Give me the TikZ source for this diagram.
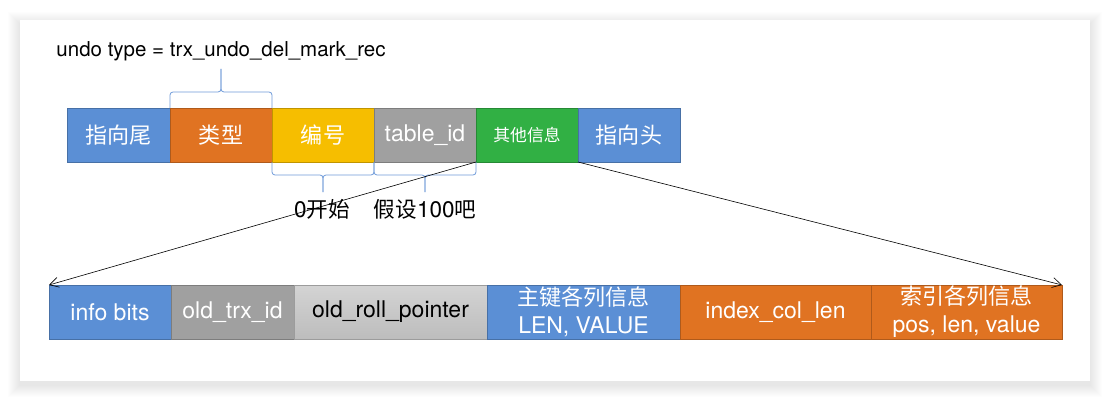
\documentclass[tikz,border=0pt]{standalone}
\usepackage{fontspec}
\setmainfont{TeX Gyre Heros}
\newfontfamily\cjk{Noto Sans CJK SC}[Scale=0.96]
\usetikzlibrary{positioning,arrows.meta}

\definecolor{cblue}{HTML}{5B8FD5}
\definecolor{corange}{HTML}{E07322}
\definecolor{cyellow}{HTML}{F6BE00}
\definecolor{cgray}{HTML}{A0A0A0}
\definecolor{cgreen}{HTML}{31B044}
\definecolor{clight}{HTML}{C8C8C8}
\definecolor{cbrace}{HTML}{6F9BDA}

\tikzset{
  cell/.style={draw=#1!78!black, fill=#1, line width=0.7pt, minimum height=54pt,
    inner sep=0pt, outer sep=0pt, text=white, align=center,
    font=\fontsize{23}{28}\selectfont},
  brc/.style={draw=cbrace, line width=0.8pt, rounded corners=3pt},
  lbl/.style={font=\fontsize{22.5}{26}\selectfont, inner sep=0pt},
  zoomline/.style={-{Straight Barb[length=9pt,width=10pt]}, line width=0.6pt},
}

\begin{document}
\begin{tikzpicture}[x=1pt,y=-1pt]
  \useasboundingbox (0,0) rectangle (1110,401);

  %%%%% card %%%%%
  \foreach \i in {1,...,12}
    \fill[black, opacity=0.006] (20-\i,20-\i+4) rectangle (1090+\i,381+\i+4);
  \fill[white] (20,20) rectangle (1090,381);

  %%%%% undo record %%%%%
  \node[cell=cblue, minimum width=103pt, anchor=west] (tail) at (67,135) {\cjk 指向尾};
  \node[cell=corange, minimum width=102pt, right=0pt of tail] (type) {\cjk 类型};
  \node[cell=cyellow, minimum width=102pt, right=0pt of type] (num) {\cjk 编号};
  \node[cell=cgray, minimum width=102pt, right=0pt of num] (tabid) {table\_id};
  \node[cell=cgreen, minimum width=102pt, right=0pt of tabid,
    font=\fontsize{17.5}{20}\selectfont] (other) {\cjk 其他信息};
  \node[cell=cblue, minimum width=102pt, right=0pt of other] (head) {\cjk 指向头};

  %%%%% braces %%%%%
  \node[font=\fontsize{20.5}{24}\selectfont, inner sep=0pt] (title) at (221,51)
    {undo type = trx\_undo\_del\_mark\_rec};
  \coordinate (typetip) at (221,69);
  \draw[brc] (type.north west) -- ++(0,-16) -| (typetip);
  \draw[brc] (type.north east) -- ++(0,-16) -| (typetip);

  \coordinate (numtip) at (323,192);
  \draw[brc] (num.south west) -- ++(0,13) -| (numtip);
  \draw[brc] (num.south east) -- ++(0,13) -| (numtip);
  \coordinate (tabtip) at (425,192);
  \draw[brc] (tabid.south west) -- ++(0,13) -| (tabtip);
  \draw[brc] (tabid.south east) -- ++(0,13) -| (tabtip);

  \node[lbl] (start) at (322,209) {0{\cjk 开始}};
  \node[lbl] (assume) at (425,209) {{\cjk 假设}100{\cjk 吧}};

  %%%%% other info %%%%%
  \node[cell=cblue, minimum width=122pt, anchor=west] (info) at (49,312) {info bits};
  \node[cell=cgray, minimum width=123pt, right=0pt of info] (trxid) {old\_trx\_id};
  \node[cell=clight, top color=black!17, bottom color=black!26, text=black,
    minimum width=193pt, right=0pt of trxid] (rollptr) {old\_roll\_pointer};
  \node[cell=cblue, minimum width=193pt, right=0pt of rollptr] (pkinfo)
    {{\cjk 主键各列信息}\\LEN, VALUE};
  \node[cell=corange, minimum width=191pt, right=0pt of pkinfo] (idxlen) {index\_col\_len};
  \node[cell=corange, minimum width=191pt, right=0pt of idxlen] (idxinfo)
    {{\cjk 索引各列信息}\\pos, len, value};

  \draw[zoomline] (other.south west) -- (info.north west);
  \draw[zoomline] (other.south east) -- (idxinfo.north east);
\end{tikzpicture}
\end{document}
